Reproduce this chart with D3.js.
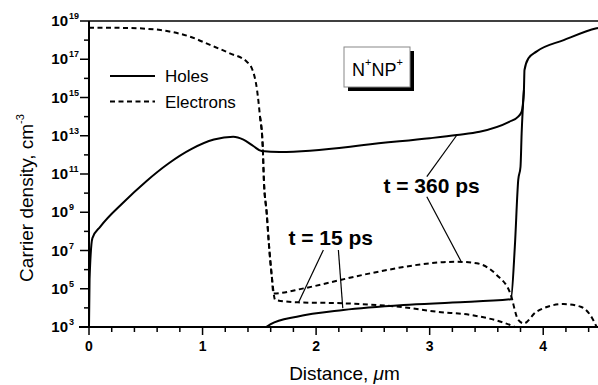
<!DOCTYPE html>
<html>
<head>
<meta charset="utf-8">
<script src="https://cdn.jsdelivr.net/npm/d3@7"></script>
<style>
  body { margin: 0; background: #fff; }
  svg { font-family: Arial, "Liberation Sans", sans-serif; }
</style>
</head>
<body>
<svg width="598" height="385"></svg>
<script>
// x in micrometres, y as log10 of carrier density (cm^-3)
var holes360X = [0, 0.005, 0.03, 0.1, 0.3, 0.5, 0.7, 0.9, 1.1, 1.27, 1.36, 1.45, 1.52, 1.68, 2.3, 2.42, 3.0, 3.24, 3.44, 3.7, 3.78, 3.81, 3.83, 3.835, 3.87, 3.94, 4.18, 4.47, 4.5];
var holes360Y = [3, 5.5, 7.65, 8.25, 9.5, 10.6, 11.55, 12.3, 12.8, 12.95, 12.8, 12.45, 12.2, 12.15, 12.43, 12.52, 12.87, 13.04, 13.21, 13.73, 14.0, 14.26, 15.39, 16.44, 17.05, 17.4, 18.0, 18.62, 18.66];

var holes15X = [1.56, 1.6, 1.83, 2.24, 2.77, 3.2, 3.715, 3.75, 3.78, 3.80, 3.81, 3.83];
var holes15Y = [3.0, 3.15, 3.54, 3.89, 4.15, 4.28, 4.45, 7.2, 10.69, 11.38, 13.13, 15.39];

var elec360X = [0, 0.3, 0.63, 0.71, 0.89, 1.066, 1.24, 1.39, 1.44, 1.48, 1.506, 1.53, 1.54, 1.565, 1.586, 1.61, 1.624, 1.89, 2.28, 2.48, 3.24, 3.415, 3.59, 3.71, 3.78, 3.83, 3.94, 4.18, 4.33, 4.44, 4.47];
var elec360Y = [18.65, 18.64, 18.53, 18.45, 18.18, 17.75, 17.31, 16.87, 16.44, 15.39, 14.0, 12.43, 10.69, 8.95, 7.2, 5.63, 4.75, 5.02, 5.55, 5.81, 6.41, 6.33, 5.72, 4.76, 3.37, 3.19, 3.8, 4.2, 4.06, 3.37, 3.0];

var elec15X = [1.506, 1.53, 1.54, 1.565, 1.586, 1.61, 1.64, 1.84, 2.24, 2.77, 3.06, 3.36, 3.71, 3.75];
var elec15Y = [14.0, 12.43, 10.69, 8.95, 7.2, 5.63, 4.41, 4.29, 4.24, 4.03, 3.8, 3.63, 3.1, 3.0];

var xTicks = [0, 1, 2, 3, 4];
var yExps = [3, 5, 7, 9, 11, 13, 15, 17, 19];

var svg = d3.select('svg');
var margin = {top: 21, left: 89, bottom: 58};
var width = 598, height = 385;

var x = d3.scaleLinear().domain([0, 4.5]).range([89, 600]);
var y = d3.scaleLog().domain([1e3, 1e19]).range([height - margin.bottom, margin.top]);
function ly(v) { return y(Math.pow(10, v)); }

var g = svg.append('g');

// frame top line
g.append('line')
  .attr('x1', x(0)).attr('x2', width)
  .attr('y1', margin.top).attr('y2', margin.top)
  .attr('stroke', '#000').attr('stroke-width', 1.5);

// x axis
var xMinor = d3.range(0, 4.41, 0.2).filter(function(d) { return Math.abs(d - Math.round(d)) > 1e-6; });
var xg = g.append('g').attr('transform', 'translate(0,' + y(1e3) + ')');
xg.append('line').attr('x1', x(0) - 10).attr('x2', width)
  .attr('stroke', '#000').attr('stroke-width', 2);
xg.selectAll('.minor').data(xMinor).enter().append('line')
  .attr('x1', function(d) { return x(d); }).attr('x2', function(d) { return x(d); })
  .attr('y1', 0).attr('y2', 5).attr('stroke', '#000').attr('stroke-width', 1.5);
xg.selectAll('.major').data(xTicks).enter().append('line')
  .attr('x1', function(d) { return x(d); }).attr('x2', function(d) { return x(d); })
  .attr('y1', 0).attr('y2', 8).attr('stroke', '#000').attr('stroke-width', 1.5);
xg.selectAll('text').data(xTicks).enter().append('text')
  .attr('x', function(d) { return x(d); })
  .attr('y', 24)
  .attr('text-anchor', 'middle')
  .attr('font-size', 14).attr('font-weight', 'bold')
  .text(function(d) { return d; });

svg.append('text')
  .attr('x', (x(0) + x(4.5)) / 2).attr('y', 380)
  .attr('text-anchor', 'middle').attr('font-size', 19)
  .text('Distance, ')
  .append('tspan').attr('font-style', 'italic').text('\u03bc')
  .select(function() { return this.parentNode; })
  .append('tspan').text('m');

// y axis
var yg = g.append('g').attr('transform', 'translate(' + x(0) + ',0)');
yg.append('line').attr('y1', margin.top).attr('y2', y(1e3))
  .attr('stroke', '#000').attr('stroke-width', 2);
var yMinor = d3.range(4, 19, 2);
yg.selectAll('.minor').data(yMinor).enter().append('line')
  .attr('y1', function(d) { return ly(d); }).attr('y2', function(d) { return ly(d); })
  .attr('x1', 0).attr('x2', -5).attr('stroke', '#000').attr('stroke-width', 1.5);
yg.selectAll('.major').data(yExps).enter().append('line')
  .attr('y1', function(d) { return ly(d); }).attr('y2', function(d) { return ly(d); })
  .attr('x1', 0).attr('x2', -9).attr('stroke', '#000').attr('stroke-width', 1.5);
var yl = yg.selectAll('.lab').data(yExps).enter().append('g')
  .attr('transform', function(d) { return 'translate(0,' + ly(d) + ')'; });
yl.append('text')
  .attr('x', -21).attr('y', 5)
  .attr('text-anchor', 'end').attr('font-size', 15).attr('font-weight', 'bold')
  .text('10');
yl.append('text')
  .attr('x', -20).attr('y', -2)
  .attr('text-anchor', 'start').attr('font-size', 9).attr('font-weight', 'bold')
  .text(function(d) { return d; });

svg.append('text')
  .attr('transform', 'translate(33,' + 198 + ') rotate(-90)')
  .attr('text-anchor', 'middle').attr('font-size', 19)
  .text('Carrier density, cm')
  .append('tspan').attr('font-size', 11).attr('dy', -9).text('-3');

// curves
var line = d3.line()
  .curve(d3.curveMonotoneX)
  .x(function(d) { return x(d[0]); })
  .y(function(d) { return ly(d[1]); });
function pairs(xs, ys) { return xs.map(function(v, i) { return [v, ys[i]]; }); }

var series = [
  {xs: holes360X, ys: holes360Y, dash: null},
  {xs: holes15X, ys: holes15Y, dash: null},
  {xs: elec360X, ys: elec360Y, dash: '5,3.5'},
  {xs: elec15X, ys: elec15Y, dash: '5,3.5'}
];
g.selectAll('.curve').data(series).enter().append('path')
  .attr('class', 'curve')
  .attr('d', function(d) { return line(pairs(d.xs, d.ys)); })
  .attr('fill', 'none').attr('stroke', '#000').attr('stroke-width', 2)
  .attr('stroke-dasharray', function(d) { return d.dash; });

// legend
var legend = [{label: 'Holes', dash: null}, {label: 'Electrons', dash: '5,3.5'}];
var lg = svg.selectAll('.leg').data(legend).enter().append('g')
  .attr('transform', function(d, i) { return 'translate(110,' + (76 + i * 25.5) + ')'; });
lg.append('line').attr('x1', 0).attr('x2', 45)
  .attr('stroke', '#000').attr('stroke-width', 2)
  .attr('stroke-dasharray', function(d) { return d.dash; });
lg.append('text').attr('x', 55).attr('y', 6).attr('font-size', 17)
  .text(function(d) { return d.label; });

// N+NP+ box
var box = svg.append('g').attr('transform', 'translate(344,47)');
box.append('rect').attr('x', 4).attr('y', 4).attr('width', 66).attr('height', 40).attr('fill', '#000');
box.append('rect').attr('x', 0).attr('y', 0).attr('width', 66).attr('height', 40)
  .attr('fill', '#fff').attr('stroke', '#888').attr('stroke-width', 1);
var bt = box.append('text').attr('x', 8).attr('y', 29).attr('font-size', 18);
bt.append('tspan').text('N');
bt.append('tspan').attr('font-size', 11).attr('dy', -10).text('+');
bt.append('tspan').attr('dy', 10).text('NP');
bt.append('tspan').attr('font-size', 11).attr('dy', -10).text('+');

// annotations (data coords, log10 y)
var leaders = [
  [2.975, 10.86, 3.24, 13.04],
  [2.975, 9.81, 3.275, 6.45],
  [2.064, 7.03, 1.844, 4.27],
  [2.196, 7.03, 2.235, 3.98]
];
g.selectAll('.leader').data(leaders).enter().append('line')
  .attr('x1', function(d) { return x(d[0]); }).attr('y1', function(d) { return ly(d[1]); })
  .attr('x2', function(d) { return x(d[2]); }).attr('y2', function(d) { return ly(d[3]); })
  .attr('stroke', '#000').attr('stroke-width', 1.2);

var notes = [
  {x: 2.593, v: 10.02, text: 't = 360 ps'},
  {x: 1.756, v: 7.29, text: 't = 15 ps'}
];
g.selectAll('.note').data(notes).enter().append('text')
  .attr('x', function(d) { return x(d.x); }).attr('y', function(d) { return ly(d.v); })
  .attr('font-size', 21).attr('font-weight', 'bold')
  .text(function(d) { return d.text; });
</script>
</body>
</html>
